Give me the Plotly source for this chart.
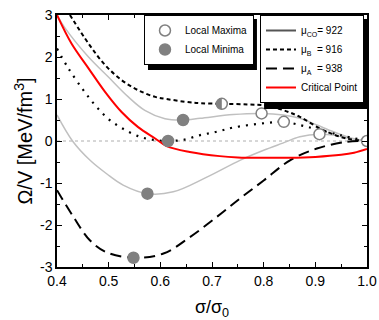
import plotly.graph_objects as go

# ---------------- data ----------------
# Critical point curve (red)
crit_x = [0.40, 0.428, 0.461, 0.493, 0.525, 0.557, 0.59, 0.612, 0.657, 0.715, 0.75, 0.80, 0.85, 0.90, 0.95, 0.975, 1.00]
crit_y = [3.00, 2.32, 1.73, 1.17, 0.69, 0.33, 0.06, -0.12, -0.26, -0.36, -0.39, -0.40, -0.40, -0.38, -0.33, -0.28, -0.19]

# mu_CO = 922 family (light gray solid curves)
gray_up_x = [0.40, 0.415, 0.461, 0.499, 0.538, 0.57, 0.609, 0.644, 0.677, 0.741, 0.796, 0.838, 0.870, 0.903, 0.935, 0.967, 1.00]
gray_up_y = [3.00, 2.70, 2.00, 1.53, 1.05, 0.73, 0.53, 0.50, 0.54, 0.63, 0.656, 0.62, 0.54, 0.38, 0.22, 0.08, 0.00]
gray_lo_x = [0.40, 0.43, 0.464, 0.496, 0.528, 0.575, 0.625, 0.69, 0.754, 0.80, 0.837, 0.87, 0.908, 0.935, 0.967, 1.00]
gray_lo_y = [0.62, 0.00, -0.46, -0.78, -1.05, -1.253, -1.21, -0.86, -0.46, -0.22, -0.05, 0.10, 0.162, 0.14, 0.06, 0.00]

# mu_B = 916 (short dashes)
muB_x = [0.425, 0.461, 0.493, 0.525, 0.557, 0.59, 0.612, 0.657, 0.677, 0.719, 0.77, 0.806, 0.838, 0.87, 0.915, 0.96, 1.00]
muB_y = [3.00, 2.32, 1.81, 1.45, 1.21, 1.05, 1.00, 0.92, 0.90, 0.885, 0.87, 0.84, 0.735, 0.575, 0.26, 0.06, 0.00]

# dotted curve
dot_x = [0.40, 0.422, 0.451, 0.474, 0.499, 0.528, 0.561, 0.59, 0.615, 0.645, 0.677, 0.709, 0.741, 0.806, 0.839, 0.883, 0.948, 1.00]
dot_y = [2.20, 1.73, 1.21, 0.85, 0.53, 0.29, 0.10, 0.02, 0.00, 0.03, 0.14, 0.22, 0.32, 0.43, 0.456, 0.34, 0.14, 0.00]

# mu_A = 938 (long dashes)
muA_x = [0.40, 0.432, 0.464, 0.496, 0.548, 0.606, 0.657, 0.709, 0.754, 0.80, 0.851, 0.903, 0.96, 1.00]
muA_y = [-1.17, -1.81, -2.37, -2.65, -2.78, -2.68, -2.29, -1.81, -1.37, -0.94, -0.46, -0.18, -0.02, 0.00]

# extrema
max_x = [0.796, 0.839, 0.908, 1.00]
max_y = [0.656, 0.456, 0.162, 0.00]
min_x = [0.644, 0.615, 0.575, 0.548]
min_y = [0.50, 0.00, -1.253, -2.78]
infl_x = [0.719]
infl_y = [0.885]

x_ticks = [0.4, 0.5, 0.6, 0.7, 0.8, 0.9, 1.0]
x_ticklabels = ["0.4", "0.5", "0.6", "0.7", "0.8", "0.9", "1.0"]
y_ticks = [-3, -2, -1, 0, 1, 2, 3]
y_ticklabels = ["-3", "-2", "-1", "0", "1", "2", "3"]

FONT = "Arial, Liberation Sans, sans-serif"
GRAY = "#c0c0c0"
MARK = "#808080"

fig = go.Figure()

# curves
fig.add_trace(go.Scatter(x=gray_up_x, y=gray_up_y, mode="lines", line=dict(color=GRAY, width=1.5, shape="spline"), showlegend=False))
fig.add_trace(go.Scatter(x=gray_lo_x, y=gray_lo_y, mode="lines", line=dict(color=GRAY, width=1.5, shape="spline"), showlegend=False))
fig.add_trace(go.Scatter(x=dot_x, y=dot_y, mode="lines", line=dict(color="black", width=2.2, dash="2px,6px", shape="spline"), showlegend=False))
fig.add_trace(go.Scatter(x=muB_x, y=muB_y, mode="lines", line=dict(color="black", width=2, dash="4px,3px", shape="spline"), showlegend=False))
fig.add_trace(go.Scatter(x=muA_x, y=muA_y, mode="lines", line=dict(color="black", width=2, dash="11px,6px", shape="spline"), showlegend=False))
fig.add_trace(go.Scatter(x=crit_x, y=crit_y, mode="lines", line=dict(color="red", width=2, shape="spline"), showlegend=False))

# legend 2 entries
fig.add_trace(go.Scatter(x=[None], y=[None], mode="lines", line=dict(color="#555555", width=2),
                         name="μ<sub>CO</sub>= 922", legend="legend2"))
fig.add_trace(go.Scatter(x=[None], y=[None], mode="lines", line=dict(color="black", width=2, dash="4px,3px"),
                         name="μ<sub>B</sub>  = 916", legend="legend2"))
fig.add_trace(go.Scatter(x=[None], y=[None], mode="lines", line=dict(color="black", width=2, dash="11px,6px"),
                         name="μ<sub>A</sub>  = 938", legend="legend2"))
fig.add_trace(go.Scatter(x=[None], y=[None], mode="lines", line=dict(color="red", width=2),
                         name="Critical Point", legend="legend2"))

# markers
fig.add_trace(go.Scatter(x=max_x, y=max_y, mode="markers", name="Local Maxima", legend="legend",
                         marker=dict(symbol="circle", size=11, color="white", line=dict(color=MARK, width=1.5))))
fig.add_trace(go.Scatter(x=min_x, y=min_y, mode="markers", name="Local Minima", legend="legend",
                         marker=dict(symbol="circle", size=11, color=MARK, line=dict(color=MARK, width=1.5))))
fig.add_trace(go.Scatter(x=infl_x, y=infl_y, mode="markers", showlegend=False,
                         marker=dict(symbol="circle", size=11, color="white", line=dict(color=MARK, width=1.5))))

# half-filled marker for the inflection point
r = 5.5
k = 0.5523 * r
half_path = f"M0,{-r} C{-k},{-r} {-r},{-k} {-r},0 C{-r},{k} {-k},{r} 0,{r} Z"
shapes = [
    dict(type="line", xref="x domain", yref="y", x0=0, x1=1, y0=0, y1=0,
         line=dict(color="#999999", width=0.8, dash="dot"), layer="below"),
    dict(type="path", xref="x", yref="y", xsizemode="pixel", ysizemode="pixel",
         xanchor=infl_x[0], yanchor=infl_y[0], path=half_path,
         fillcolor=MARK, line=dict(width=0), layer="above"),
    # legend shadows
    dict(type="rect", xref="paper", yref="paper", x0=0.2935, x1=0.645, y0=0.782, y1=0.984,
         fillcolor="black", line=dict(width=0), layer="above"),
    dict(type="rect", xref="paper", yref="paper", x0=0.668, x1=1.0, y0=0.627, y1=0.984,
         fillcolor="black", line=dict(width=0), layer="above"),
]

axis_common = dict(showgrid=False, zeroline=False, showline=True, linecolor="black", linewidth=1.5,
                   mirror="ticks", ticks="inside", ticklen=5, tickwidth=1, tickcolor="black",
                   tickfont=dict(family=FONT, size=14, color="black"), tickmode="array",
                   automargin=False)

fig.update_layout(
    template="none",
    width=379, height=320,
    margin=dict(l=57, r=12, t=15, b=53),
    paper_bgcolor="white", plot_bgcolor="white",
    font=dict(family=FONT, color="black"),
    xaxis=dict(range=[0.4, 1.0], tickvals=x_ticks, ticktext=x_ticklabels,
               minor=dict(ticks="inside", dtick=0.05, ticklen=3, tickcolor="black"),
               title=dict(text="σ/σ<sub>0</sub>", font=dict(family=FONT, size=18), standoff=24),
               **axis_common),
    yaxis=dict(range=[-3, 3], tickvals=y_ticks, ticktext=y_ticklabels,
               minor=dict(ticks="inside", dtick=0.5, ticklen=3, tickcolor="black"),
               title=dict(text="Ω/V [MeV/fm<sup>3</sup>]", font=dict(family=FONT, size=20), standoff=2),
               **axis_common),
    legend=dict(x=0.2806, y=1.0, xanchor="left", yanchor="top", bgcolor="white",
                bordercolor="black", borderwidth=1, font=dict(family=FONT, size=10), tracegroupgap=0),
    legend2=dict(x=0.6548, y=1.0, xanchor="left", yanchor="top", bgcolor="white",
                 bordercolor="black", borderwidth=1, font=dict(family=FONT, size=10), tracegroupgap=0),
    shapes=shapes,
)

fig.write_html("out.html", config={"displayModeBar": False},
               post_script="document.body.style.margin='0';document.body.style.overflow='hidden';")
